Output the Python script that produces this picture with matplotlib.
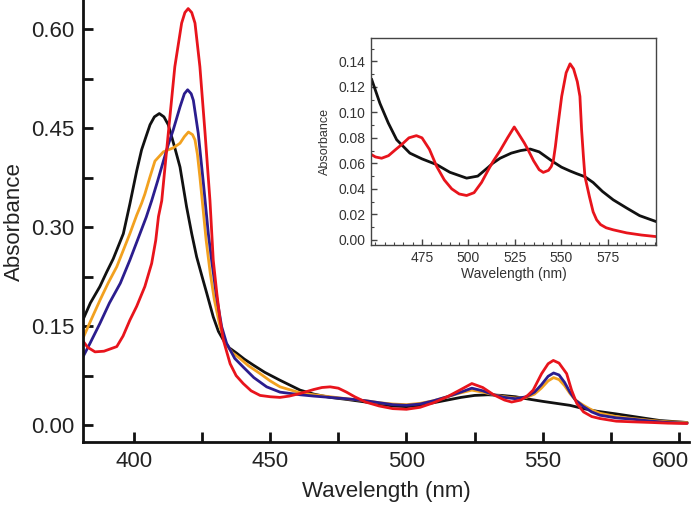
import matplotlib
matplotlib.use("Agg")
import matplotlib.pyplot as plt
from matplotlib.ticker import MultipleLocator, FixedLocator
from matplotlib.transforms import ScaledTranslation

plt.rcParams['font.family'] = ['Liberation Sans', 'DejaVu Sans']

# ---------------- main panel data ----------------
wl_black = [381, 384, 387.5, 390, 392.4, 396.1, 398.5, 401, 402.8, 404.5, 405.9, 407.5, 409.3, 411, 412.6,
            415, 416.9, 419.3, 421.2, 423, 425, 426.7, 429.1, 431, 432.8, 435, 437.7, 440.5, 443.8,
            448, 453.6, 461, 466, 472, 478, 485, 490, 495, 500, 505, 510, 515, 520, 525, 530, 535,
            540, 544, 550, 555, 560, 565, 570, 577, 585, 593, 603]
a_black = [0.157, 0.185, 0.21, 0.232, 0.252, 0.29, 0.335, 0.385, 0.417, 0.438, 0.455, 0.467, 0.472, 0.467, 0.455,
           0.42, 0.391, 0.331, 0.29, 0.255, 0.225, 0.20, 0.164, 0.142, 0.129, 0.117, 0.109, 0.100, 0.091,
           0.080, 0.068, 0.053, 0.047, 0.042, 0.039, 0.035, 0.032, 0.029, 0.028, 0.030, 0.034, 0.038,
           0.042, 0.045, 0.046, 0.045, 0.043, 0.040, 0.036, 0.033, 0.030, 0.025, 0.021, 0.017, 0.012,
           0.007, 0.004]

wl_orange = [381, 384, 387.5, 390.5, 393.7, 396.1, 398.5, 401, 402.8, 404, 405.8, 407.7, 410.8, 414.4,
             416.9, 418.5, 420, 421.5, 422.4, 423.3, 424.2, 425.3, 426.5, 428, 429.5, 431.6, 433.4, 436,
             438.9, 442, 446.3, 450, 453.6, 461, 466, 472, 478, 485, 490, 495, 500, 505, 510, 515, 520,
             524, 528, 532, 536, 540, 544, 547, 549.5, 552, 554, 556, 558, 560, 562, 565, 568, 571, 577,
             583, 590, 596, 603]
a_orange = [0.129, 0.157, 0.189, 0.215, 0.24, 0.265, 0.29, 0.318, 0.336, 0.35, 0.375, 0.40, 0.414, 0.42,
            0.427, 0.437, 0.444, 0.44, 0.432, 0.41, 0.376, 0.33, 0.28, 0.23, 0.19, 0.149, 0.126, 0.11,
            0.101, 0.09, 0.078, 0.067, 0.058, 0.049, 0.046, 0.043, 0.040, 0.037, 0.034, 0.032, 0.031,
            0.033, 0.037, 0.043, 0.049, 0.053, 0.050, 0.046, 0.043, 0.041, 0.042, 0.047, 0.056, 0.067,
            0.072, 0.069, 0.060, 0.048, 0.038, 0.030, 0.023, 0.018, 0.013, 0.010, 0.007, 0.005, 0.004]

wl_blue = [381, 384, 387.5, 391, 395, 398.5, 402.2, 404.5, 406.5, 408.7, 410.8, 412.6, 414.4, 416.9,
           418.5, 419.7, 421, 421.8, 423.6, 425.5, 427.3, 428.5, 430.3, 432.2, 434, 437, 440.1, 444,
           448.7, 453.6, 461, 466, 472, 478, 485, 490, 495, 500, 505, 510, 515, 520, 524, 528, 532,
           536, 540, 544, 547, 549.5, 552, 554, 556, 558, 560, 562, 565, 568, 571, 577, 583, 590, 596, 603]
a_blue = [0.101, 0.125, 0.154, 0.185, 0.215, 0.25, 0.29, 0.315, 0.34, 0.37, 0.40, 0.425, 0.447, 0.482,
          0.502, 0.508, 0.502, 0.492, 0.442, 0.366, 0.29, 0.25, 0.195, 0.149, 0.124, 0.101, 0.088, 0.072,
          0.058, 0.050, 0.046, 0.044, 0.042, 0.040, 0.037, 0.034, 0.031, 0.030, 0.032, 0.037, 0.043,
          0.050, 0.056, 0.052, 0.046, 0.042, 0.040, 0.043, 0.050, 0.061, 0.074, 0.079, 0.076, 0.065,
          0.050, 0.038, 0.028, 0.020, 0.015, 0.011, 0.009, 0.006, 0.004, 0.003]

wl_red = [381, 383, 385.7, 389, 393.7, 396, 398.5, 401, 404, 406.5, 408, 409, 410.2, 412.6, 415, 417.5,
          418.7, 419.9, 421.2, 422.4, 424.2, 426.1, 427.9, 429.1, 430.4, 431.6, 432.8, 435.3, 437.5,
          440.1, 443, 446.3, 450, 453.6, 457, 461, 466, 469, 472, 475, 478, 481, 485, 490, 495, 500,
          505, 510, 515, 520, 524, 528, 532, 536, 538.6, 542, 544.5, 546.5, 549.6, 552, 553.9, 556,
          558.8, 560.6, 562.5, 565, 568, 571, 577, 583, 590, 596, 603]
a_red = [0.129, 0.118, 0.111, 0.112, 0.119, 0.135, 0.159, 0.18, 0.21, 0.245, 0.28, 0.316, 0.34, 0.442,
         0.543, 0.609, 0.625, 0.631, 0.625, 0.609, 0.543, 0.442, 0.34, 0.25, 0.2, 0.16, 0.129, 0.093,
         0.075, 0.063, 0.052, 0.045, 0.043, 0.042, 0.044, 0.048, 0.054, 0.057, 0.058, 0.056, 0.050,
         0.043, 0.035, 0.029, 0.025, 0.024, 0.027, 0.034, 0.043, 0.054, 0.063, 0.057, 0.046, 0.038,
         0.035, 0.038, 0.045, 0.053, 0.078, 0.093, 0.098, 0.094, 0.078, 0.053, 0.033, 0.020, 0.013,
         0.010, 0.006, 0.005, 0.004, 0.003, 0.0025]

# ---------------- inset data ----------------
wl_in_black = [448, 452.4, 456.9, 461.4, 468.5, 475, 482.9, 490, 499, 505, 510.7, 513, 517, 523, 528,
               533.2, 538, 545.7, 550, 554.6, 558, 562.6, 567, 572, 577.8, 585, 592, 600.8]
a_in_black = [0.1256, 0.107, 0.0916, 0.0785, 0.068, 0.0635, 0.059, 0.053, 0.0484, 0.050, 0.057, 0.060,
              0.064, 0.068, 0.070, 0.0712, 0.069, 0.061, 0.057, 0.054, 0.052, 0.0495, 0.045, 0.038,
              0.0314, 0.025, 0.019, 0.0144]

wl_in_red = [448, 450, 453.3, 457, 461, 464, 468, 472, 475, 479, 482.9, 487, 491, 495, 499, 503, 507,
             510.7, 513, 517, 521, 524.6, 527, 530, 532, 535, 538, 540.2, 543, 544.5, 545.6, 546.7,
             547.8, 550.1, 552.5, 554.6, 556.5, 558.5, 559.9, 560.8, 561.8, 562.6, 565, 567, 568.9,
             571, 574, 577.8, 585, 593, 600.8]
a_in_red = [0.0667, 0.065, 0.064, 0.066, 0.071, 0.0746, 0.080, 0.0817, 0.080, 0.071, 0.0576, 0.047,
            0.040, 0.036, 0.0348, 0.037, 0.045, 0.055, 0.061, 0.070, 0.080, 0.0885, 0.083, 0.076,
            0.0707, 0.062, 0.055, 0.0529, 0.0545, 0.0575, 0.062, 0.073, 0.0864, 0.1125, 0.131, 0.138,
            0.134, 0.124, 0.1125, 0.0864, 0.065, 0.0497, 0.034, 0.022, 0.0157, 0.012, 0.0095, 0.0079,
            0.0055, 0.0038, 0.0026]

main_xticks = [400, 450, 500, 550, 600]
main_yticks = [0.00, 0.15, 0.30, 0.45, 0.60]
inset_xticks = [475, 500, 525, 550, 575]
inset_yticks = [0.00, 0.02, 0.04, 0.06, 0.08, 0.10, 0.12, 0.14]

C_BLACK = '#111111'
C_ORANGE = '#F2A11F'
C_BLUE = '#2B1D8E'
C_RED = '#E8141C'

fig = plt.figure(figsize=(6.93, 5.05), dpi=100)
W, H = 693, 505
ax = fig.add_axes([83 / W, (H - 442.3) / H, (689 - 83) / W, 442.3 / H])

for wl, a, c in ((wl_black, a_black, C_BLACK), (wl_orange, a_orange, C_ORANGE),
                 (wl_blue, a_blue, C_BLUE), (wl_red, a_red, C_RED)):
    ax.plot(wl, a, color=c, lw=2.0, solid_joinstyle='round', solid_capstyle='round')

ax.set_xlim(381.3, 603.7)
ax.set_ylim(-0.026, 0.644)
ax.spines['top'].set_visible(False)
ax.spines['right'].set_visible(False)
for s in ('left', 'bottom'):
    ax.spines[s].set_linewidth(2.0)
    ax.spines[s].set_color('#111111')
ax.xaxis.set_major_locator(FixedLocator(main_xticks))
ax.xaxis.set_minor_locator(MultipleLocator(25))
ax.yaxis.set_major_locator(FixedLocator(main_yticks))
ax.yaxis.set_minor_locator(MultipleLocator(0.075))
ax.set_yticklabels([f'{v:.2f}' for v in main_yticks])
ax.tick_params(which='both', direction='in', length=7.5, width=2.0, color='#111111')
ax.tick_params(which='major', labelsize=16, pad=6, labelcolor='#222222')
ax.set_xlabel('Wavelength (nm)', fontsize=16, color='#222222', labelpad=7)
ax.set_ylabel('Absorbance', fontsize=16, color='#222222')
ax.yaxis.set_label_coords(-0.095, 0.5)

fig.canvas.draw()
last = ax.get_xticklabels()[-1]
last.set_transform(last.get_transform() + ScaledTranslation(-6 / 72, 0, fig.dpi_scale_trans))

# ---------------- inset ----------------
ax2 = fig.add_axes([371 / W, (H - 245) / H, (656 - 371) / W, (245 - 38.3) / H])
ax2.plot(wl_in_black, a_in_black, color=C_BLACK, lw=2.0, solid_joinstyle='round')
ax2.plot(wl_in_red, a_in_red, color=C_RED, lw=2.0, solid_joinstyle='round')
ax2.set_xlim(447.6, 600.8)
ax2.set_ylim(-0.004, 0.158)
for s in ax2.spines.values():
    s.set_linewidth(1.0)
    s.set_color('#444444')
ax2.xaxis.set_major_locator(FixedLocator(inset_xticks))
ax2.xaxis.set_minor_locator(MultipleLocator(5))
ax2.yaxis.set_major_locator(FixedLocator(inset_yticks))
ax2.yaxis.set_minor_locator(MultipleLocator(0.01))
ax2.set_yticklabels([f'{v:.2f}' for v in inset_yticks])
ax2.tick_params(which='major', direction='in', length=4, width=1.0, color='#444444',
                labelsize=10, pad=4, labelcolor='#333333')
ax2.tick_params(which='minor', direction='in', length=2.5, width=0.8, color='#444444')
ax2.set_xlabel('Wavelength (nm)', fontsize=10, color='#333333', labelpad=2)
ax2.set_ylabel('Absorbance', fontsize=9, color='#333333', labelpad=5)

fig.savefig('out.png', dpi=100)
